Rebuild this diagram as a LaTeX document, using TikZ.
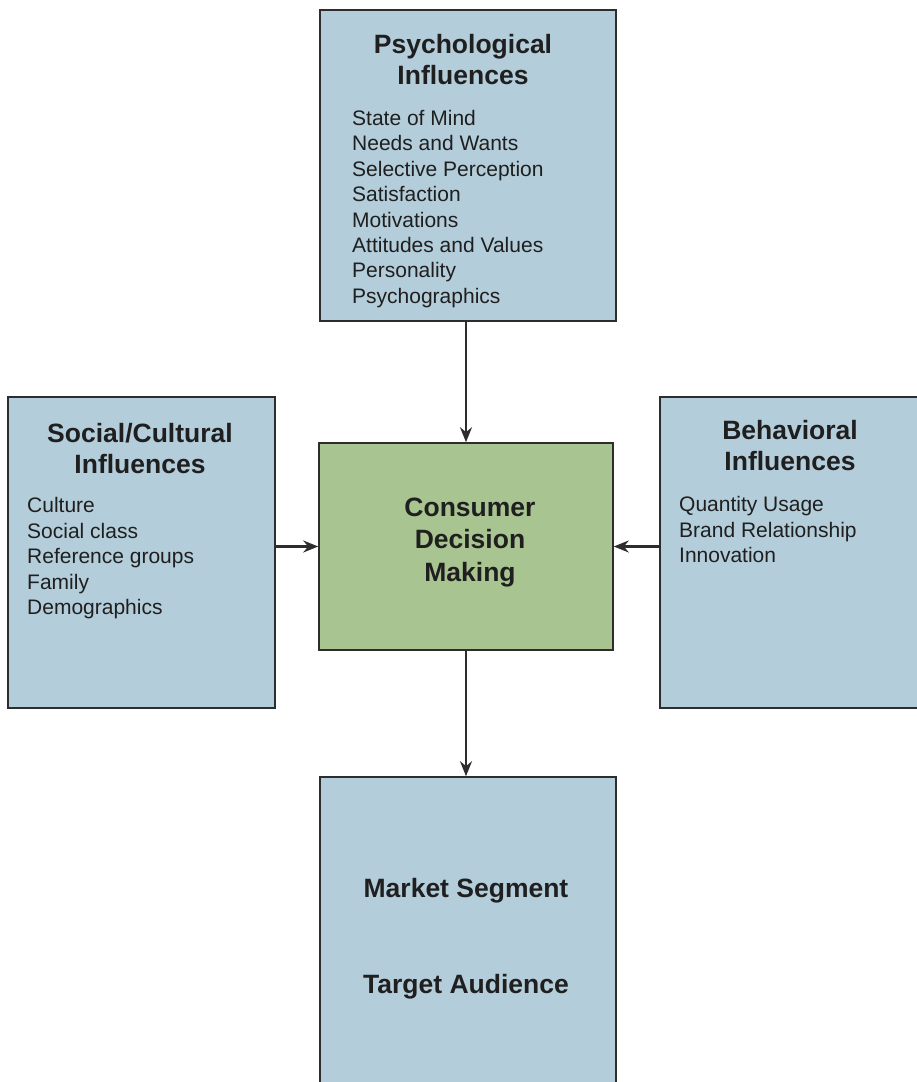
\documentclass[tikz,border=0pt]{standalone}
\usepackage{fontspec}
\setmainfont{Liberation Sans}
\usetikzlibrary{arrows.meta}
\definecolor{boxblue}{RGB}{180,205,218}
\definecolor{boxgreen}{RGB}{168,196,144}
\definecolor{edge}{RGB}{45,45,45}
\tikzset{
  bx/.style={draw=edge, line width=1.6pt, inner sep=0pt},
  bluebox/.style={bx, fill=boxblue},
  greenbox/.style={bx, fill=boxgreen},
  ttl/.style={inner sep=0pt, align=center, font=\fontsize{26.5}{31}\selectfont\bfseries, text=black!88},
  lst/.style={inner sep=0pt, align=left, font=\fontsize{21}{25.4}\selectfont, text=black!88},
  arr/.style={draw=edge, line width=2.6pt, -{Stealth[length=15pt,width=12pt,inset=5pt]}}
}
\begin{document}
\begin{tikzpicture}[x=1pt,y=-1pt]
\useasboundingbox (0,0) rectangle (917,1082);
% boxes
\node[bluebox, minimum width=296pt, minimum height=311pt] (psy) at (468,165.5) {};
\node[bluebox, minimum width=267pt, minimum height=311pt] (soc) at (141.5,552.5) {};
\node[greenbox, minimum width=294pt, minimum height=207pt] (cdm) at (466,546.5) {};
\node[bluebox, minimum width=280pt, minimum height=311pt] (beh) at (800,552.5) {};
\node[bluebox, minimum width=296pt, minimum height=323pt] (mkt) at (468,938.5) {};
% texts
\node[ttl, anchor=north] (psyT) at (463,34.5) {Psychological\\Influences};
\node[lst, anchor=north west] (psyL) at (352,110) {State of Mind\\Needs and Wants\\Selective Perception\\Satisfaction\\Motivations\\Attitudes and Values\\Personality\\Psychographics};
\node[ttl, anchor=north] (socT) at (140,423) {Social/Cultural\\Influences};
\node[lst, anchor=north west] (socL) at (27,497.5) {Culture\\Social class\\Reference groups\\Family\\Demographics};
\node[ttl, anchor=north] (behT) at (790,420.5) {Behavioral\\Influences};
\node[lst, anchor=north west] (behL) at (679,496.5) {Quantity Usage\\Brand Relationship\\Innovation};
\node[ttl, anchor=north, font=\fontsize{26.5}{32.5}\selectfont\bfseries] (cdmT) at (470,497.5) {Consumer\\Decision\\Making};
\node[ttl] (mktA) at (466,890.5) {Market Segment};
\node[ttl] (mktB) at (466,986.5) {Target Audience};
% connectors
\draw[arr] (cdm.north |- psy.south) -- (cdm.north);
\draw[arr] (soc.east |- cdm.west) -- (cdm.west);
\draw[arr] (beh.west |- cdm.east) -- (cdm.east);
\draw[arr] (cdm.south) -- (cdm.south |- mkt.north);
\end{tikzpicture}
\end{document}
